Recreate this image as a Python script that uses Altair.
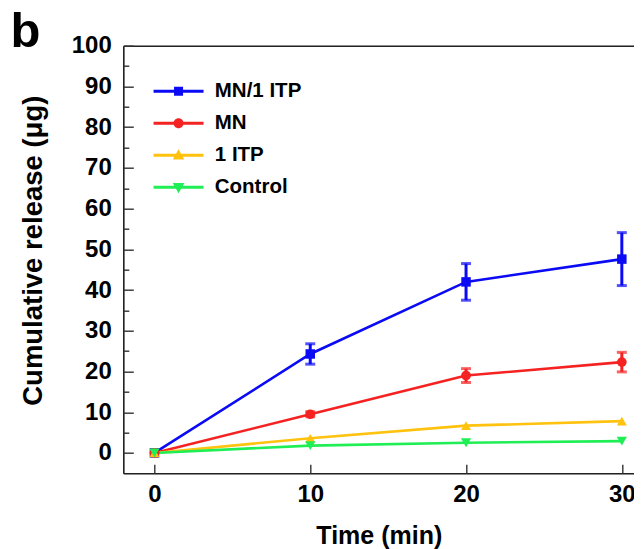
import altair as alt
import pandas as pd

series = ["MN/1 ITP", "MN", "1 ITP", "Control"]
time_min = [0, 10, 20, 30]
mn_itp = [0, 24.3, 42.0, 47.6]
mn = [0, 9.5, 19.0, 22.3]
itp = [0, 3.6, 6.7, 7.8]
control = [0, 1.8, 2.5, 2.9]
mn_itp_err = [0, 2.5, 4.5, 6.5]
mn_err = [0, 0.6, 1.7, 2.4]
itp_err = [0, 0, 0, 0]
control_err = [0, 0, 0, 0]
colors = ["#0A0AF5", "#F52222", "#FFC20E", "#1FEE55"]
shapes = ["square", "circle", "triangle-up", "triangle-down"]
marker_sizes = [90, 105, 130, 130]

values = [mn_itp, mn, itp, control]
errors = [mn_itp_err, mn_err, itp_err, control_err]

rows = []
for i, s in enumerate(series):
    for t, v, e in zip(time_min, values[i], errors[i]):
        rows.append({"series": s, "order": i, "time": t, "value": v, "err": e,
                     "lo": v - e, "hi": v + e})
df = pd.DataFrame(rows)
df_err = df[df["err"] > 0].copy()
caps = pd.concat([
    df_err.assign(cap=df_err["lo"]),
    df_err.assign(cap=df_err["hi"]),
])

FONT = "Liberation Sans"
xscale = alt.Scale(domain=[-2, 30.8], nice=False, zero=False)
yscale = alt.Scale(domain=[-5, 100], nice=False, zero=False)


def cscale():
    return alt.Scale(domain=series, range=colors)


# legend symbol paths: line bar + marker (symbolSize 400 -> 10 px per unit)
bar = "M-2.5,-0.14H2.5V0.14H-2.5Z"
legend_paths = [
    bar + "M-0.45,-0.45H0.45V0.45H-0.45Z",
    bar + "M-0.5,0A0.5,0.5 0 1,1 0.5,0A0.5,0.5 0 1,1 -0.5,0Z",
    bar + "M0,-0.6L0.58,0.42H-0.58Z",
    bar + "M0,0.6L-0.58,-0.42H0.58Z",
]

legend = alt.Legend(
    orient="none", legendX=45, legendY=35.3, title=None, padding=0,
    symbolSize=400, labelOffset=26, rowPadding=11,
    symbolStrokeWidth=0, symbolOpacity=1,
    labelFont=FONT, labelFontSize=20.5, labelFontWeight="bold", labelColor="black",
    labelLimit=300,
)

x_main = alt.Axis(orient="bottom", values=time_min, ticks=False, tickSize=0, grid=False,
                  labelFont=FONT, labelFontSize=24, labelFontWeight="bold", labelColor="black",
                  labelPadding=9, labelFlush=False,
                  title="Time (min)", titleFont=FONT, titleFontSize=25, titleFontWeight="bold",
                  titleColor="black", titlePadding=17,
                  domainColor="#222", domainWidth=1.6)
y_main = alt.Axis(orient="left", values=list(range(0, 101, 10)), ticks=False, tickSize=0, grid=False,
                  labelFont=FONT, labelFontSize=24, labelFontWeight="bold", labelColor="black",
                  labelPadding=12, labelFlush=False,
                  title="Cumulative release (μg)", titleFont=FONT, titleFontSize=27.5,
                  titleFontWeight="bold", titleColor="black", titlePadding=24, titleY=204.5,
                  domainColor="#222", domainWidth=1.6)
x_ticks = alt.Axis(orient="bottom", values=time_min, offset=-9, tickSize=9, tickWidth=1.4,
                   tickColor="#333", domain=False, labels=False, title=None, grid=False)
y_ticks = alt.Axis(orient="left", values=list(range(0, 101, 10)), offset=-10, tickSize=10,
                   tickWidth=1.4, tickColor="#333", domain=False, labels=False, title=None, grid=False)
x_top = alt.Axis(orient="top", domain=True, ticks=False, labels=False, grid=False,
                 domainColor="#222", domainWidth=1.6,
                 title="b", titleFont=FONT, titleFontSize=49, titleFontWeight="bold",
                 titleColor="black", titleX=-113.4, titleY=1, titleAlign="left",
                 titleBaseline="alphabetic", titleAngle=0)
y_minor = alt.Axis(orient="left", values=list(range(5, 100, 10)), offset=-5.5, tickSize=5.5,
                   tickWidth=1.4, tickColor="#333", domain=False, labels=False, title=None, grid=False)

base = alt.Chart(df)

lines = base.mark_line(strokeWidth=2.6).encode(
    x=alt.X("time:Q", scale=xscale, axis=x_main),
    y=alt.Y("value:Q", scale=yscale, axis=y_main),
    color=alt.Color("series:N", scale=cscale(), sort=series, legend=None),
    order="time:Q",
)

rules = alt.Chart(df_err).mark_rule(strokeWidth=3).encode(
    x=alt.X("time:Q", scale=xscale, axis=x_ticks),
    y=alt.Y("lo:Q", scale=yscale, axis=y_ticks),
    y2="hi:Q",
    color=alt.Color("series:N", scale=cscale(), sort=series, legend=None),
)

capmarks = alt.Chart(caps).mark_tick(orient="horizontal", thickness=3, size=10).encode(
    x=alt.X("time:Q", scale=xscale, axis=None),
    y=alt.Y("cap:Q", scale=yscale, axis=None),
    color=alt.Color("series:N", scale=cscale(), sort=series, legend=None),
)

points = base.mark_point(filled=True, opacity=1).encode(
    x=alt.X("time:Q", scale=xscale, axis=x_top),
    y=alt.Y("value:Q", scale=yscale, axis=y_minor),
    color=alt.Color("series:N", scale=cscale(), sort=series, legend=None),
    shape=alt.Shape("series:N", scale=alt.Scale(domain=series, range=shapes), legend=None),
    size=alt.Size("series:N", scale=alt.Scale(domain=series, range=marker_sizes), legend=None),
    order=alt.Order("order:Q"),
)

# legend-only layer (no marks drawn): its own shape scale holds line+marker glyphs
legend_layer = base.transform_filter(alt.datum.time < -100).mark_point(
    filled=True, opacity=1
).encode(
    x=alt.X("time:Q", scale=xscale, axis=None),
    y=alt.Y("value:Q", scale=yscale, axis=None),
    color=alt.Color("series:N", scale=cscale(), sort=series, legend=legend),
    shape=alt.Shape("series:N", scale=alt.Scale(domain=series, range=legend_paths),
                    sort=series, legend=legend),
)

chart = alt.layer(lines, rules, capmarks, points, legend_layer).resolve_axis(
    x="independent", y="independent"
).resolve_scale(
    color="independent", shape="independent", size="independent"
).properties(
    width=511, height=427.6,
    autosize=alt.AutoSizeParams(type="none"),
    padding={"left": 115.3, "top": 37.7, "right": 0, "bottom": 76},
).configure_view(stroke=None).configure(background="white")

chart.save("out.html", embed_options={"renderer": "svg", "actions": False})
